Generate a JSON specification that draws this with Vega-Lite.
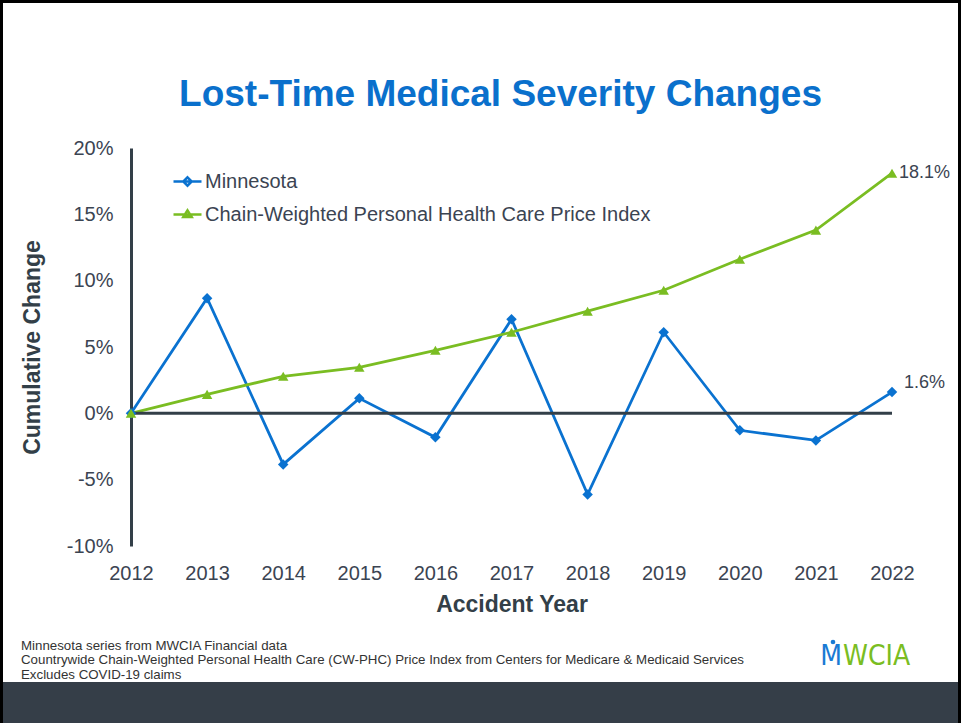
{
  "$schema": "https://vega.github.io/schema/vega-lite/v6.json",
  "autosize": "none",
  "width": 761,
  "height": 398,
  "padding": {"left": 131, "top": 148, "right": 69, "bottom": 177},
  "background": "white",
  "title": {
    "text": "Lost-Time Medical Severity Changes",
    "font": "Liberation Sans",
    "fontSize": 37,
    "fontWeight": "bold",
    "color": "#0a70cc",
    "anchor": "middle",
    "frame": "group",
    "baseline": "alphabetic",
    "dx": -11,
    "offset": -143
  },
  "config": {
    "view": {"stroke": null},
    "font": "Liberation Sans",
    "axis": {
      "labelFont": "Liberation Sans",
      "titleFont": "Liberation Sans",
      "labelColor": "#3b4452",
      "titleColor": "#333f48",
      "labelFontSize": 20,
      "titleFontSize": 23,
      "titleFontWeight": "bold",
      "grid": false,
      "ticks": false
    },
    "legend": {
      "labelFont": "Liberation Sans",
      "labelFontSize": 20,
      "labelColor": "#3b4452",
      "labelLimit": 0
    }
  },
  "datasets": {
    "series": [
      {"Year": 2012, "Series": "Minnesota", "Value": 0.0},
      {"Year": 2013, "Series": "Minnesota", "Value": 0.0868},
      {"Year": 2014, "Series": "Minnesota", "Value": -0.0385},
      {"Year": 2015, "Series": "Minnesota", "Value": 0.0113},
      {"Year": 2016, "Series": "Minnesota", "Value": -0.0181},
      {"Year": 2017, "Series": "Minnesota", "Value": 0.0709},
      {"Year": 2018, "Series": "Minnesota", "Value": -0.0611},
      {"Year": 2019, "Series": "Minnesota", "Value": 0.0611},
      {"Year": 2020, "Series": "Minnesota", "Value": -0.0128},
      {"Year": 2021, "Series": "Minnesota", "Value": -0.0204},
      {"Year": 2022, "Series": "Minnesota", "Value": 0.016, "Label": "1.6%"},
      {"Year": 2012, "Series": "Chain-Weighted Personal Health Care Price Index", "Value": 0.0},
      {"Year": 2013, "Series": "Chain-Weighted Personal Health Care Price Index", "Value": 0.0143},
      {"Year": 2014, "Series": "Chain-Weighted Personal Health Care Price Index", "Value": 0.0279},
      {"Year": 2015, "Series": "Chain-Weighted Personal Health Care Price Index", "Value": 0.0347},
      {"Year": 2016, "Series": "Chain-Weighted Personal Health Care Price Index", "Value": 0.0475},
      {"Year": 2017, "Series": "Chain-Weighted Personal Health Care Price Index", "Value": 0.0611},
      {"Year": 2018, "Series": "Chain-Weighted Personal Health Care Price Index", "Value": 0.077},
      {"Year": 2019, "Series": "Chain-Weighted Personal Health Care Price Index", "Value": 0.0928},
      {"Year": 2020, "Series": "Chain-Weighted Personal Health Care Price Index", "Value": 0.1162},
      {"Year": 2021, "Series": "Chain-Weighted Personal Health Care Price Index", "Value": 0.1381},
      {"Year": 2022, "Series": "Chain-Weighted Personal Health Care Price Index", "Value": 0.181, "Label": "18.1%"}
    ],
    "footer": [
      {"Text": ["Minnesota series from MWCIA Financial data", "Countrywide Chain-Weighted Personal Health Care (CW-PHC) Price Index from Centers for Medicare & Medicaid Services", "Excludes COVID-19 claims"]}
    ],
    "one": [{}]
  },
  "resolve": {
    "scale": {"shape": "independent"},
    "legend": {"shape": "independent", "color": "independent"}
  },
  "layer": [
    {
      "data": {"name": "one"},
      "mark": {"type": "rect", "fill": "#353e48"},
      "encoding": {
        "x": {"value": -131},
        "x2": {"value": 830},
        "y": {"value": 534},
        "y2": {"value": 575}
      }
    },
    {
      "data": {"name": "one"},
      "mark": {"type": "rect", "fill": null, "stroke": "#000000", "strokeWidth": 3},
      "encoding": {
        "x": {"value": -129.5},
        "x2": {"value": 828.5},
        "y": {"value": -146.5},
        "y2": {"value": 577}
      }
    },
    {
      "data": {"name": "series"},
      "mark": {"type": "line", "strokeWidth": 2.75},
      "encoding": {
        "x": {
          "field": "Year",
          "type": "quantitative",
          "scale": {"domain": [2012, 2022], "nice": false, "zero": false},
          "axis": {
            "title": "Accident Year",
            "values": [2012, 2013, 2014, 2015, 2016, 2017, 2018, 2019, 2020, 2021, 2022],
            "format": "d",
            "domain": false,
            "labelFlush": false,
            "labelPadding": 17,
            "titlePadding": 10
          }
        },
        "y": {
          "field": "Value",
          "type": "quantitative",
          "scale": {"domain": [-0.1, 0.2], "nice": false},
          "axis": {
            "title": "Cumulative Change",
            "values": [-0.1, -0.05, 0, 0.05, 0.1, 0.15, 0.2],
            "format": ".0%",
            "labelExpr": "replace(datum.label, '\u2212', '-')",
            "domain": true,
            "domainColor": "#333f48",
            "domainWidth": 3,
            "labelPadding": 18,
            "labelFlush": false,
            "titleX": -87
          }
        },
        "color": {
          "field": "Series",
          "type": "nominal",
          "scale": {
            "domain": ["Minnesota", "Chain-Weighted Personal Health Care Price Index"],
            "range": ["#0a72d0", "#7abd22"]
          },
          "legend": null
        }
      }
    },
    {
      "data": {"name": "one"},
      "mark": {"type": "rule", "stroke": "#333f48", "strokeWidth": 3},
      "encoding": {"y": {"datum": 0, "type": "quantitative"}}
    },
    {
      "data": {"name": "series"},
      "mark": {"type": "point", "filled": true, "opacity": 1, "size": 110},
      "encoding": {
        "x": {"field": "Year", "type": "quantitative"},
        "y": {"field": "Value", "type": "quantitative"},
        "color": {"field": "Series", "type": "nominal", "legend": null},
        "shape": {
          "field": "Series",
          "type": "nominal",
          "scale": {
            "domain": ["Minnesota", "Chain-Weighted Personal Health Care Price Index"],
            "range": ["diamond", "triangle-up"]
          },
          "legend": null
        }
      }
    },
    {
      "data": {"name": "series"},
      "mark": {"type": "point", "filled": false, "opacity": 0, "size": 784, "strokeWidth": 2.5},
      "encoding": {
        "x": {"field": "Year", "type": "quantitative"},
        "y": {"field": "Value", "type": "quantitative"},
        "color": {
          "field": "Series",
          "type": "nominal",
          "legend": {
            "title": null,
            "orient": "none",
            "legendX": 41,
            "legendY": 18,
            "rowPadding": 7,
            "symbolOpacity": 1,
            "symbolSize": 784,
            "symbolStrokeWidth": 2.5,
            "labelOffset": 2,
            "labelLimit": 0
          }
        },
        "shape": {
          "field": "Series",
          "type": "nominal",
          "scale": {
            "domain": ["Minnesota", "Chain-Weighted Personal Health Care Price Index"],
            "range": [
              "M-1,0H1M0,-0.3L0.3,0L0,0.3L-0.3,0Z",
              "M-1,0H1M0,-0.3L0.3,0.18L-0.3,0.18Z"
            ]
          },
          "legend": {
            "title": null,
            "orient": "none",
            "legendX": 41,
            "legendY": 18,
            "rowPadding": 7,
            "symbolOpacity": 1,
            "symbolSize": 784,
            "symbolStrokeWidth": 2.5,
            "labelOffset": 2,
            "labelLimit": 0
          }
        }
      }
    },
    {
      "data": {"name": "series"},
      "transform": [{"filter": "datum.Label == '18.1%'"}],
      "mark": {"type": "text", "align": "left", "baseline": "middle", "dx": 7, "fontSize": 18, "color": "#3b4452"},
      "encoding": {
        "x": {"field": "Year", "type": "quantitative"},
        "y": {"field": "Value", "type": "quantitative"},
        "text": {"field": "Label"}
      }
    },
    {
      "data": {"name": "series"},
      "transform": [{"filter": "datum.Label == '1.6%'"}],
      "mark": {"type": "text", "align": "left", "baseline": "middle", "dx": 12, "dy": -9, "fontSize": 18, "color": "#3b4452"},
      "encoding": {
        "x": {"field": "Year", "type": "quantitative"},
        "y": {"field": "Value", "type": "quantitative"},
        "text": {"field": "Label"}
      }
    },
    {
      "data": {"name": "footer"},
      "mark": {"type": "text", "align": "left", "baseline": "alphabetic", "fontSize": 13.3, "lineHeight": 14.5, "color": "#333333"},
      "encoding": {
        "x": {"value": -110},
        "y": {"value": 501.5},
        "text": {"field": "Text"}
      }
    },
    {
      "data": {"name": "one"},
      "mark": {"type": "text", "text": "M", "align": "right", "baseline": "alphabetic", "font": "DejaVu Sans Condensed, Liberation Sans, sans-serif", "fontSize": 28, "color": "#1a7ad4"},
      "encoding": {"x": {"value": 711}, "y": {"value": 517}}
    },
    {
      "data": {"name": "one"},
      "mark": {"type": "text", "text": "WCIA", "align": "left", "baseline": "alphabetic", "font": "DejaVu Sans Condensed, Liberation Sans, sans-serif", "fontSize": 28, "color": "#7abd22"},
      "encoding": {"x": {"value": 712}, "y": {"value": 517}}
    },
    {
      "data": {"name": "one"},
      "mark": {"type": "point", "shape": "circle", "filled": true, "size": 22, "color": "#1a7ad4", "opacity": 1},
      "encoding": {"x": {"value": 702}, "y": {"value": 494}}
    }
  ]
}
